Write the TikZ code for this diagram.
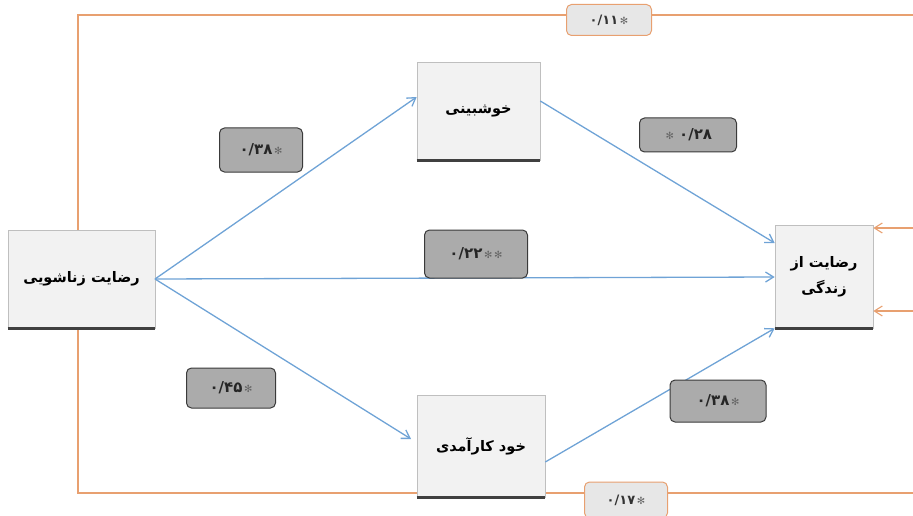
\documentclass[tikz,border=0pt]{standalone}
\usepackage{fontspec}
\newfontfamily\arabicfont[Script=Arabic]{DejaVu Sans}
\newfontfamily\numfont{DejaVu Sans}
\TeXXeTstate=1
\usetikzlibrary{arrows.meta}
\definecolor{boxfill}{HTML}{F2F2F2}
\definecolor{boxline}{HTML}{BFBFBF}
\definecolor{shadowc}{HTML}{404040}
\definecolor{orangel}{HTML}{E8A070}
\definecolor{bluel}{HTML}{6FA3D6}
\definecolor{labfill}{HTML}{ABABAB}
\definecolor{labline}{HTML}{3A3A3A}
\tikzset{
  varbox/.style={draw=boxline, fill=boxfill, line width=0.6pt, inner sep=0pt, align=center,
    font=\arabicfont\bfseries\fontsize{14.5}{26}\selectfont},
  coef/.style={draw=labline, fill=labfill, rounded corners=5pt, line width=1pt, inner sep=0pt,
    font=\numfont\bfseries\fontsize{15}{17}\selectfont, text=black!85},
  coefo/.style={draw=orangel, fill=boxfill!90!gray, rounded corners=5pt, line width=1pt, inner sep=0pt,
    font=\numfont\bfseries\fontsize{13}{15}\selectfont, text=black!80},
  barrow/.style={draw=bluel, line width=1.3pt, -{Straight Barb[length=8pt,width=10pt]}},
  oline/.style={draw=orangel, line width=1.1pt},
  oarrow/.style={draw=orangel, line width=1.1pt, -{Straight Barb[length=8pt,width=10pt]}},
  shad/.style={draw=shadowc, line width=2.5pt}
}
\newcommand{\sta}{{\fontsize{10}{12}\selectfont\color{black!60}\,✻}}
\begin{document}
\begin{tikzpicture}[x=1pt,y=-1pt]
\useasboundingbox (0,0) rectangle (913,516);
% coordinates for orange frame
\coordinate (TL) at (78,15);
\coordinate (TR) at (913.5,15);
\coordinate (BL) at (78,493);
\coordinate (BR) at (913.5,493);
\coordinate (RA) at (913.5,228);
\coordinate (RB) at (913.5,311);
% variable boxes
\node[varbox, minimum width=147, minimum height=98] (L) at (81.5,279) {\beginR رضایت زناشویی\endR};
\node[varbox, minimum width=123, minimum height=98] (T) at (478.5,111) {\beginR خوشبینی\endR};
\node[varbox, minimum width=98, minimum height=103] (R) at (824,276.5) {\beginR رضایت از\endR\\\beginR زندگی\endR};
% orange frame lines (behind bottom box)
\draw[oline] (L.north -| TL) -- (TL) -- (TR);
\draw[oline] (L.south -| BL) -- (BL) -- (BR);
\node[varbox, minimum width=128, minimum height=102] (B) at (481,446) {\beginR خود کارآمدی\endR};
\draw[oarrow] (RA) -- (R.east |- RA);
\draw[oarrow] (RB) -- (R.east |- RB);
% shadows
\foreach \n in {L,T,R,B} {\draw[shad] (\n.south west) -- (\n.south east);}
% blue arrows
\coordinate (LO) at (155,279);
\draw[barrow] (LO) -- (T.west |- 0,97);
\draw[barrow] (LO) -- (R.west |- 0,277);
\draw[barrow] (LO) -- (411,439);
\draw[barrow] (T.east |- 0,101) -- (R.west |- 0,243);
\draw[barrow] (B.east |- 0,462) -- (R.south west);
% coefficient labels
\node[coef, minimum width=83, minimum height=44] (c1) at (261,150) {۰/۳۸\sta};
\node[coef, minimum width=103, minimum height=48] (c2) at (476,254) {۰/۲۲\sta\sta};
\node[coef, minimum width=97, minimum height=34] (c3) at (688,135) {\sta\ ۰/۲۸};
\node[coef, minimum width=89, minimum height=40] (c4) at (231,388) {۰/۴۵\sta};
\node[coef, minimum width=96, minimum height=42] (c5) at (718,401) {۰/۳۸\sta};
\node[coefo, minimum width=85, minimum height=31] (c6) at (609,20) {۰/۱۱\sta};
\node[coefo, minimum width=83, minimum height=36] (c7) at (626,500) {۰/۱۷\sta};
\end{tikzpicture}
\end{document}
